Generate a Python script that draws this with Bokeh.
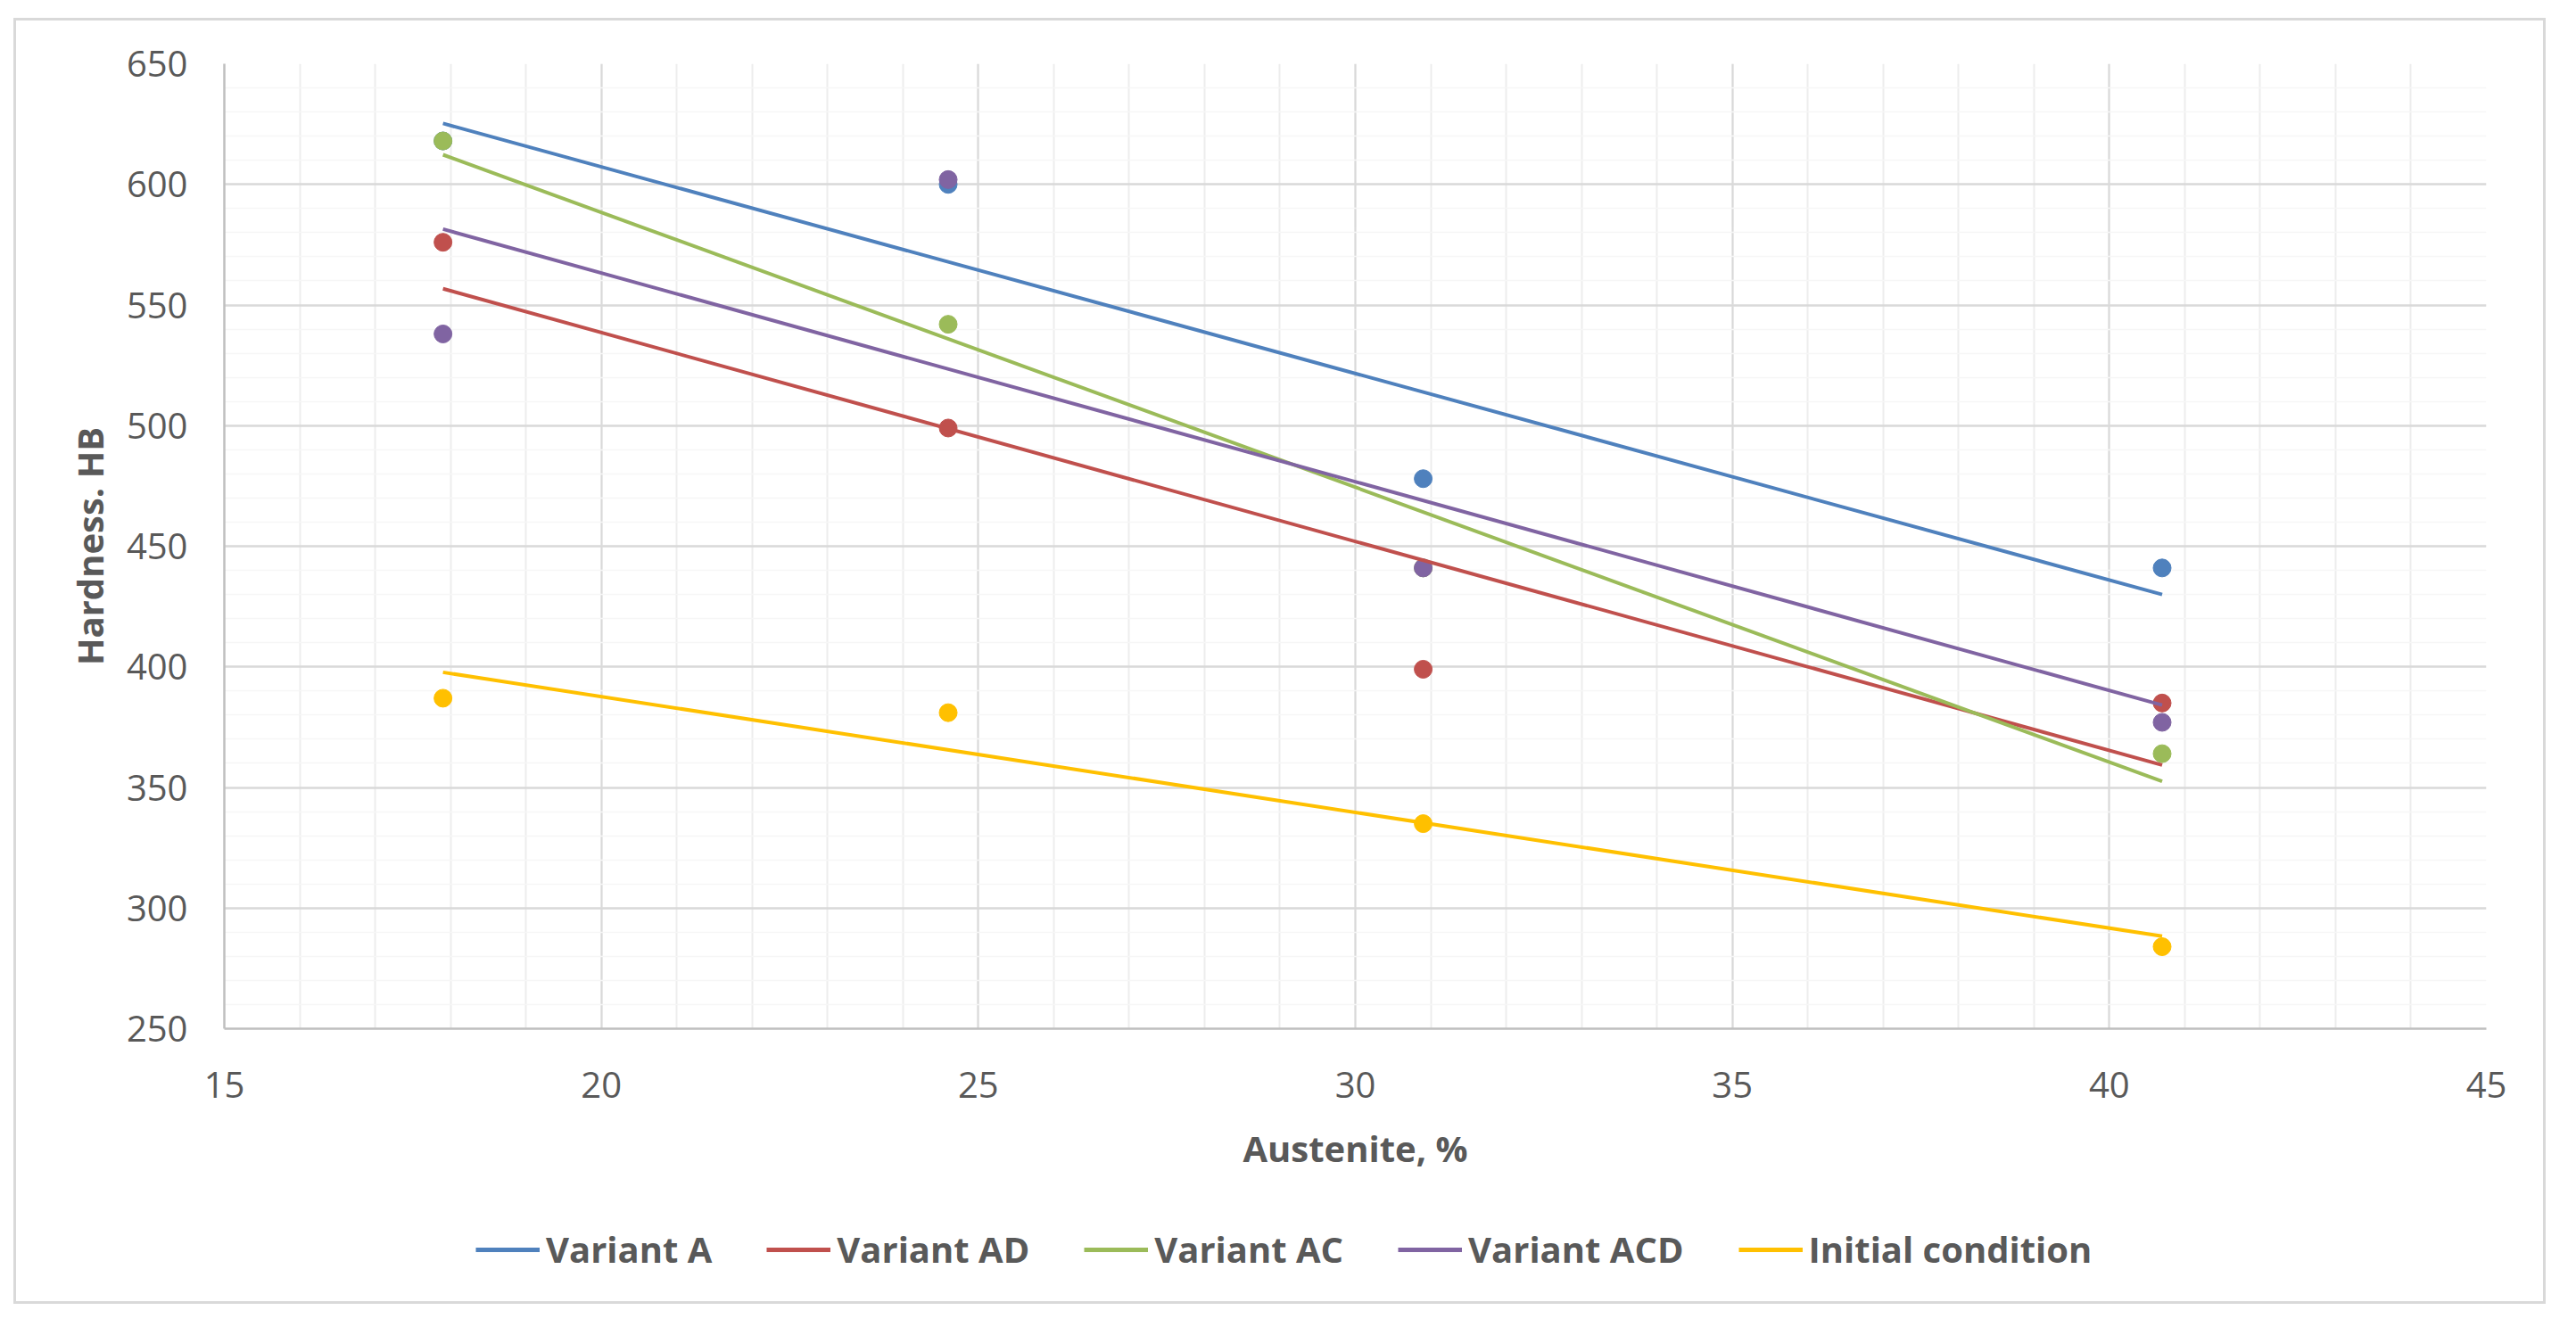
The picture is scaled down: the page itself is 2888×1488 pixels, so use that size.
import numpy as np
from bokeh.plotting import figure
from bokeh.layouts import column
from bokeh.models import Legend, LegendItem, SingleIntervalTicker
from bokeh.embed import file_html
from bokeh.resources import INLINE

# austenite content, % (same for every series)
austenite = [17.9, 24.6, 30.9, 40.7]

variant_a = [618, 600, 478, 441]
variant_ad = [576, 499, 399, 385]
variant_ac = [618, 542, 441, 364]
variant_acd = [538, 602, 441, 377]
initial_cond = [387, 381, 335, 284]

series_names = ["Variant A", "Variant AD", "Variant AC", "Variant ACD", "Initial condition"]
series_values = [variant_a, variant_ad, variant_ac, variant_acd, initial_cond]
colors = ["#4F81BD", "#C0504D", "#9BBB59", "#8064A2", "#FFC000"]

FONT = "Open Sans"
TXT = "#595959"

p = figure(frame_width=2536, frame_height=1082, x_range=(15, 45), y_range=(250, 650),
           output_backend="svg", toolbar_location=None,
           min_border_left=233, min_border_right=64,
           min_border_top=48, min_border_bottom=180,
           x_axis_label="Austenite, %", y_axis_label="Hardness. HB")
p.outline_line_color = None
p.background_fill_color = "white"
p.border_fill_color = "white"

p.xaxis.ticker = SingleIntervalTicker(interval=5, num_minor_ticks=5)
p.yaxis.ticker = SingleIntervalTicker(interval=50, num_minor_ticks=5)

for ax in (p.xaxis, p.yaxis):
    ax.major_tick_line_color = None
    ax.minor_tick_line_color = None
    ax.major_tick_out = 0
    ax.axis_line_color = "#bfbfbf"
    ax.axis_line_width = 2.5
    ax.major_label_text_font = FONT
    ax.major_label_text_font_size = "40px"
    ax.major_label_text_color = TXT
    ax.axis_label_text_font = FONT
    ax.axis_label_text_font_style = "bold"
    ax.axis_label_text_color = TXT
    ax.axis_label_text_font_size = "40px"

p.xaxis.major_label_standoff = 44
p.xaxis.axis_label_standoff = 26
p.yaxis.major_label_standoff = 37
p.yaxis.axis_label_standoff = 11

p.xgrid.ticker = p.xaxis.ticker
p.ygrid.ticker = p.yaxis.ticker
p.xgrid.grid_line_color = "#d9d9d9"
p.xgrid.grid_line_width = 2
p.xgrid.minor_grid_line_color = "#ededed"
p.xgrid.minor_grid_line_width = 2
p.ygrid.grid_line_color = "#d9d9d9"
p.ygrid.grid_line_width = 2.5
p.ygrid.minor_grid_line_color = "#f6f6f6"
p.ygrid.minor_grid_line_width = 1.5

# markers first, linear trendlines on top
for vals, c in zip(series_values, colors):
    p.scatter(austenite, vals, size=20, color=c, line_color=c)

xs = np.array(austenite)
for vals, c in zip(series_values, colors):
    k, b = np.polyfit(xs, np.array(vals), 1)
    ends = [xs.min(), xs.max()]
    p.line(ends, [k * e + b for e in ends], line_color=c, line_width=4)

# legend strip under the chart: a blank figure whose ranges keep the
# series lines out of view, so only the legend shows.
# (column aligns its frame with the main frame, so x offset is from there)
leg = figure(width=2833, height=126, output_backend="svg", toolbar_location=None,
             x_axis_location=None, y_axis_location=None, min_border=0,
             x_range=(0, 1), y_range=(0, 1))
leg.outline_line_color = None
leg.grid.visible = False
leg.border_fill_color = "white"
leg.background_fill_color = "white"

items = []
for name, vals, c in zip(series_names, series_values, colors):
    r = leg.line(austenite, vals, line_color=c, line_width=5)
    items.append(LegendItem(label=name, renderers=[r]))

legend = Legend(items=items, orientation="horizontal", location=(282, 31))
legend.border_line_color = None
legend.background_fill_alpha = 0
legend.padding = 0
legend.margin = 0
legend.spacing = 61
legend.glyph_width = 72
legend.glyph_height = 30
legend.label_standoff = 7
legend.label_text_font = FONT
legend.label_text_font_size = "40px"
legend.label_text_font_style = "bold"
legend.label_text_color = TXT
leg.add_layout(legend)

page = column(p, leg, spacing=0)
page.margin = (20, 0, 0, 15)
page.styles = {"border": "3px solid #d9d9d9"}

open("out.html", "w").write(file_html(page, INLINE))
